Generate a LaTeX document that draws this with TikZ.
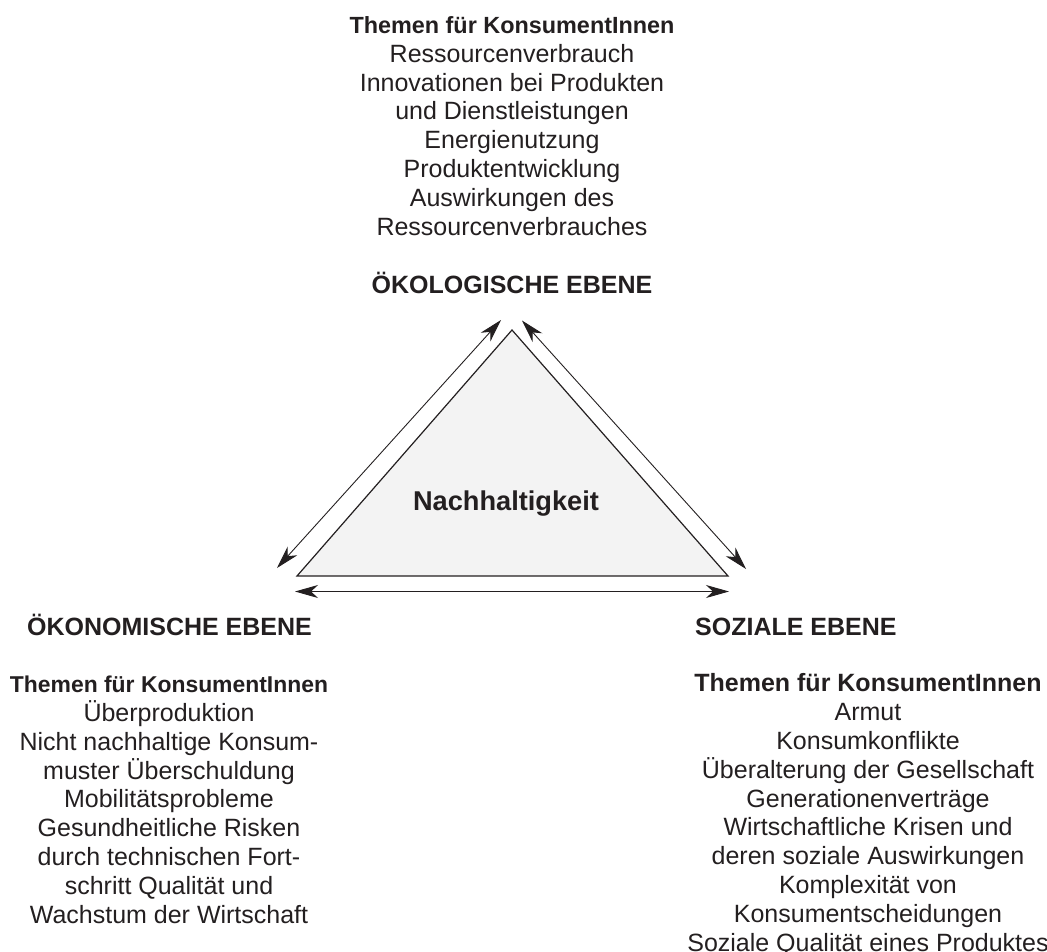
\documentclass[tikz,border=0pt]{standalone}
\usepackage{fontspec}
\setmainfont{Liberation Sans}
\usetikzlibrary{arrows.meta}
\definecolor{inktext}{HTML}{231F20}
\definecolor{trifill}{HTML}{F3F3F3}
\newcommand\themenkopf[1]{{\fontsize{#1}{28.8}\selectfont\bfseries Themen für KonsumentInnen}}
\tikzset{
    nh block/.style={align=center, anchor=base, inner sep=0pt, text=inktext,
                     font=\fontsize{25}{28.8}\selectfont},
    nh level/.style={anchor=base, inner sep=0pt, text=inktext,
                     font=\fontsize{25}{28.8}\selectfont\bfseries},
    nh tri/.style={draw=inktext, line width=1.2pt, fill=trifill, line join=miter},
    nh link/.style={{Stealth[length=23pt,width=13pt,inset=7pt]}-{Stealth[length=23pt,width=13pt,inset=7pt]},
                    draw=inktext, line width=0.9pt},
}
\begin{document}
\begin{tikzpicture}[x=1pt, y=-1pt]
    \useasboundingbox (0,0) rectangle (1047,951);
    % Triangle
    \coordinate (top) at (512, 330);
    \coordinate (left) at (297, 576);
    \coordinate (right) at (728, 576);
    \filldraw[nh tri] (top) -- (left) -- (right) -- cycle;
    \node[anchor=base, inner sep=0pt, text=inktext,
          font=\fontsize{27.2}{30}\selectfont\bfseries]
        (nh) at (506, 510) {Nachhaltigkeit};
    % Arrows along the sides
    \coordinate (l1) at (277, 568);
    \coordinate (l2) at (501, 320);
    \coordinate (r1) at (522, 320.5);
    \coordinate (r2) at (746, 569);
    \coordinate (b1) at (295, 591.5);
    \coordinate (b2) at (729, 591.5);
    \draw[nh link] (l1) -- (l2);
    \draw[nh link] (r1) -- (r2);
    \draw[nh link] (b1) -- (b2);
    % Levels
    \node[nh level] (oeko) at (512, 293) {ÖKOLOGISCHE EBENE};
    \node[nh level] (oekon) at (169.5, 635) {ÖKONOMISCHE EBENE};
    \node[nh level, anchor=base west] (sozial) at (695, 635) {SOZIALE EBENE};
    % Topics (anchored at the baseline of the last line)
    \node[nh block] (top topics) at (512, 235) {\themenkopf{23.4}\\
        Ressourcenverbrauch\\
        Innovationen bei Produkten\\
        und Dienstleistungen\\
        Energienutzung\\
        Produktentwicklung\\
        Auswirkungen des\\
        Ressourcenverbrauches};
    \node[nh block] (left topics) at (169, 923) {\themenkopf{22.9}\\
        Überproduktion\\
        Nicht nachhaltige Konsum-\\
        muster Überschuldung\\
        Mobilitätsprobleme\\
        Gesundheitliche Risken\\
        durch technischen Fort-\\
        schritt Qualität und\\
        Wachstum der Wirtschaft};
    \node[nh block] (right topics) at (868, 951) {\themenkopf{25}\\
        Armut\\
        Konsumkonflikte\\
        Überalterung der Gesellschaft\\
        Generationenverträge\\
        Wirtschaftliche Krisen und\\
        deren soziale Auswirkungen\\
        Komplexität von\\
        Konsumentscheidungen\\
        Soziale Qualität eines Produktes};
\end{tikzpicture}
\end{document}
